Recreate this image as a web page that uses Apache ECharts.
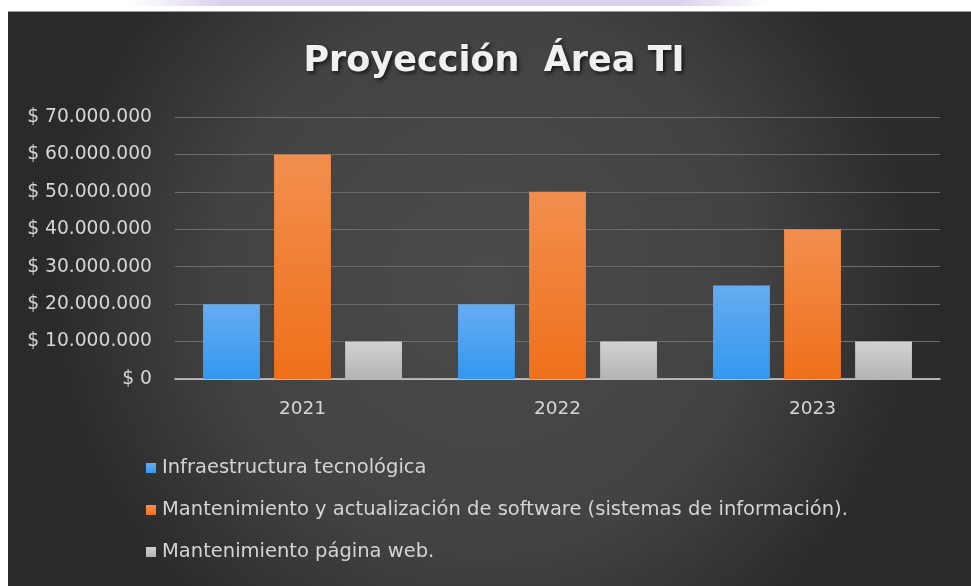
<!DOCTYPE html>
<html>
<head>
<meta charset="utf-8">
<script src="https://cdn.jsdelivr.net/npm/echarts@6/dist/echarts.min.js"></script>
<style>
  html, body { margin: 0; padding: 0; background: #fff; }
  #chart { width: 971px; height: 586px; }
</style>
</head>
<body>
<div id="chart"></div>
<script>
// Budget projection for the IT area, per year and line item
const years = ['2021', '2022', '2023'];
const seriesNames = [
  'Infraestructura tecnológica',
  'Mantenimiento y actualización de software (sistemas de información).',
  'Mantenimiento página web.'
];
const infraestructura = [20000000, 20000000, 25000000];
const software = [60000000, 50000000, 40000000];
const paginaWeb = [10000000, 10000000, 10000000];

const yMin = 0;
const yMax = 70000000;
const yStep = 10000000;

// "$ 70.000.000" style labels (dot as thousands separator)
function pesos(v) {
  return '$ ' + String(Math.round(v)).replace(/\B(?=(\d{3})+(?!\d))/g, '.');
}

const G = echarts.graphic;
const vgrad = (top, bottom) => new G.LinearGradient(0, 0, 0, 1, [
  { offset: 0, color: top }, { offset: 1, color: bottom }
]);

const chart = echarts.init(document.getElementById('chart'), null, { renderer: 'canvas' });

chart.setOption({
  animation: false,
  backgroundColor: new G.RadialGradient(0.5, 0.48, 0.75, [
    { offset: 0, color: '#4a4a4a' },
    { offset: 0.6, color: '#434343' },
    { offset: 1, color: '#2a2a2a' }
  ]),
  title: {
    text: 'Proyección  Área TI',
    left: 489,
    top: 39,
    textAlign: 'center',
    textStyle: {
      fontFamily: 'DejaVu Sans',
      fontWeight: 'bold',
      fontSize: 35,
      color: '#f0f0f0',
      textShadowColor: 'rgba(0,0,0,0.7)',
      textShadowBlur: 4,
      textShadowOffsetX: 2,
      textShadowOffsetY: 2
    }
  },
  legend: {
    orient: 'vertical',
    left: 141,
    top: 453,
    itemWidth: 10,
    itemHeight: 10,
    itemGap: 22,
    icon: 'rect',
    textStyle: {
      fontFamily: 'DejaVu Sans',
      fontSize: 19.5,
      color: '#d4d4d4',
      padding: [0, 0, 0, 1]
    },
    data: seriesNames
  },
  grid: {
    left: 175,
    right: 31,
    top: 117,
    bottom: 207,
    containLabel: false
  },
  xAxis: {
    type: 'category',
    data: years,
    axisTick: { show: false },
    axisLine: { lineStyle: { color: '#d4d4d4', width: 1.5 } },
    axisLabel: {
      margin: 21,
      fontFamily: 'DejaVu Sans',
      fontSize: 18.5,
      color: '#d6d6d6'
    }
  },
  yAxis: {
    type: 'value',
    min: yMin,
    max: yMax,
    interval: yStep,
    axisLine: { show: false },
    axisTick: { show: false },
    splitLine: { lineStyle: { color: '#6c6c6c', width: 1 } },
    axisLabel: {
      margin: 23,
      fontFamily: 'DejaVu Sans',
      fontSize: 18.7,
      color: '#d6d6d6',
      formatter: pesos
    }
  },
  series: [
    {
      name: seriesNames[0],
      type: 'bar',
      data: infraestructura,
      barGap: '25%',
      barCategoryGap: '22%',
      itemStyle: { color: vgrad('#66acf0', '#3398ef') }
    },
    {
      name: seriesNames[1],
      type: 'bar',
      data: software,
      itemStyle: { color: vgrad('#f28f4e', '#ef701a') }
    },
    {
      name: seriesNames[2],
      type: 'bar',
      data: paginaWeb,
      itemStyle: { color: vgrad('#d2d2d2', '#b4b4b4') }
    }
  ],
  graphic: [
    // page margin around the dark panel
    { type: 'rect', left: 0, top: 0, shape: { width: 971, height: 11 }, style: { fill: '#ffffff' }, z: 100 },
    { type: 'rect', left: 0, top: 0, shape: { width: 8, height: 586 }, style: { fill: '#ffffff' }, z: 100 },
    // lavender band along the top edge
    {
      type: 'rect', left: 130, top: 0, shape: { width: 640, height: 6 }, z: 101,
      style: {
        fill: new G.LinearGradient(0, 0, 1, 0, [
          { offset: 0, color: 'rgba(216,208,236,0)' },
          { offset: 0.15, color: 'rgba(216,208,236,1)' },
          { offset: 0.85, color: 'rgba(216,208,236,1)' },
          { offset: 1, color: 'rgba(216,208,236,0)' }
        ])
      }
    },
    { type: 'rect', left: 8, top: 11, shape: { width: 963, height: 1 }, style: { fill: '#9a9a9a' }, z: 100 }
  ]
});
</script>
</body>
</html>
